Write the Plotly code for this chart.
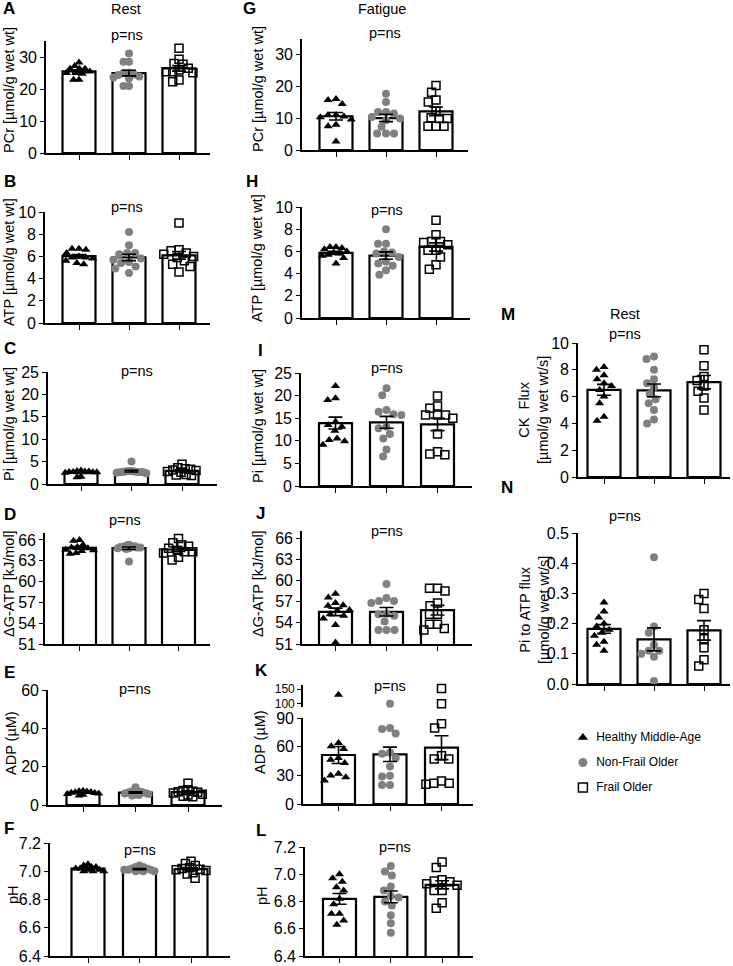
import numpy as np
import plotly.graph_objects as go

W, H = 733, 966
FONT = "Liberation Sans, Arial, sans-serif"
GRAY = "#808080"

groups = ["Healthy Middle-Age", "Non-Frail Older", "Frail Older"]

# ---------------- Rest (A-F) ----------------
rest_pcr_hma = [28.3, 27.2, 26.3, 26.3, 26.3, 25.5, 25.0, 25.0, 24.8, 22.9, 22.9]
rest_pcr_nfo = [31.1, 28.5, 28.5, 25.0, 24.5, 25.1, 24.4, 23.9, 23.6, 23.3, 20.9, 20.9]
rest_pcr_fo = [32.7, 29.3, 28.0, 27.7, 26.5, 25.9, 25.4, 25.4, 25.1, 22.8, 22.3]

rest_atp_hma = [6.7, 6.7, 6.6, 6.3, 6.0, 5.9, 5.9, 5.8, 5.6, 5.4, 5.3]
rest_atp_nfo = [8.2, 7.0, 6.2, 6.3, 6.3, 5.8, 5.7, 5.5, 5.4, 5.1, 4.9, 4.5]
rest_atp_fo = [9.0, 6.6, 6.5, 6.3, 6.2, 6.0, 5.9, 5.6, 5.3, 5.1, 4.6]

rest_pi_hma = [3.0, 2.9, 2.8, 2.8, 2.7, 2.7, 2.6, 2.6, 2.5, 1.6, 1.5]
rest_pi_nfo = [5.0, 2.9, 2.9, 2.8, 2.8, 2.7, 2.7, 2.7, 2.6, 2.6, 2.5, 2.4]
rest_pi_fo = [4.4, 3.6, 3.4, 3.3, 3.1, 3.0, 2.8, 2.6, 2.1, 2.0, 1.9]

rest_dg_hma = [66.0, 65.9, 65.3, 65.0, 64.9, 64.8, 64.6, 64.5, 64.4, 64.1, 64.0]
rest_dg_nfo = [65.3, 65.2, 65.1, 65.1, 65.0, 65.0, 64.9, 64.9, 64.8, 64.8, 64.7, 62.9]
rest_dg_fo = [66.2, 65.6, 65.3, 65.1, 64.8, 64.5, 64.3, 64.3, 64.1, 63.5, 63.1]

rest_adp_hma = [7.5, 7.2, 7.0, 6.8, 6.6, 6.4, 6.2, 6.0, 5.8, 5.3, 5.0]
rest_adp_nfo = [9.3, 7.5, 7.2, 7.0, 6.8, 6.5, 6.3, 6.0, 5.8, 5.5, 5.2, 5.0]
rest_adp_fo = [11.3, 7.9, 7.6, 7.2, 6.9, 6.6, 6.3, 5.6, 5.2, 4.6, 4.3]

rest_ph_hma = [7.05, 7.04, 7.03, 7.03, 7.02, 7.02, 7.01, 7.01, 7.00, 7.00, 7.00]
rest_ph_nfo = [7.04, 7.03, 7.03, 7.02, 7.02, 7.01, 7.01, 7.01, 7.01, 7.00, 7.00, 7.00]
rest_ph_fo = [7.07, 7.055, 7.04, 7.025, 7.02, 7.015, 7.01, 7.005, 6.99, 6.98, 6.95]

# ---------------- Fatigue (G-L) ----------------
fat_pcr_hma = [16.1, 15.8, 14.5, 11.0, 11.0, 10.6, 10.3, 9.6, 8.0, 7.5, 2.7]
fat_pcr_nfo = [17.7, 15.1, 12.0, 12.0, 11.5, 10.4, 9.9, 9.4, 7.3, 5.2, 5.2, 5.2]
fat_pcr_fo = [20.3, 18.2, 15.8, 15.1, 12.2, 10.2, 9.9, 9.9, 7.5, 7.5, 7.5]

fat_atp_hma = [6.4, 6.4, 6.3, 6.2, 6.0, 5.9, 5.8, 5.7, 5.6, 5.4, 4.9]
fat_atp_nfo = [8.0, 6.7, 6.7, 6.0, 5.9, 5.8, 5.5, 5.1, 4.9, 4.7, 4.3, 3.9]
fat_atp_fo = [8.8, 7.5, 6.6, 6.9, 6.9, 6.8, 6.1, 6.1, 5.5, 4.8, 4.4]

fat_pi_hma = [22.1, 19.4, 19.0, 14.2, 13.5, 13.1, 12.2, 10.5, 10.2, 9.9, 9.1]
fat_pi_nfo = [21.6, 20.1, 16.8, 16.4, 15.9, 15.7, 13.1, 12.8, 11.5, 10.5, 8.1, 6.5]
fat_pi_fo = [19.9, 17.7, 17.2, 15.7, 15.7, 15.7, 15.0, 11.5, 7.6, 7.1, 6.9]

fat_dg_hma = [58.1, 57.6, 56.8, 56.5, 56.4, 55.8, 55.7, 55.2, 55.0, 54.6, 53.7, 51.2]
fat_dg_nfo = [59.5, 57.5, 57.1, 56.8, 57.1, 55.3, 55.2, 55.0, 54.2, 53.0, 53.0, 53.0]
fat_dg_fo = [58.9, 58.9, 58.5, 56.8, 56.4, 55.2, 55.2, 53.8, 53.8, 53.2, 53.0]

fat_adp_hma = [131, 63.9, 60.4, 57.5, 48.1, 46.3, 42.8, 31.6, 29.8, 28.1, 24.6]
fat_adp_nfo = [100, 79.6, 78.6, 73.7, 54.0, 52.6, 48.1, 39.3, 29.5, 28.8, 20.0, 20.0]
fat_adp_fo = [152, 100, 83.9, 79.6, 50.5, 47.0, 47.0, 24.2, 21.8, 21.8, 20.7]

fat_ph_hma = [7.0, 6.97, 6.945, 6.905, 6.88, 6.82, 6.78, 6.71, 6.71, 6.66, 6.63]
fat_ph_nfo = [7.06, 7.02, 6.99, 6.91, 6.88, 6.84, 6.83, 6.8, 6.77, 6.7, 6.64, 6.57]
fat_ph_fo = [7.09, 7.05, 6.96, 6.95, 6.945, 6.93, 6.92, 6.88, 6.88, 6.79, 6.75]

# ---------------- Rest fluxes (M-N) ----------------
ck_flux_hma = [8.2, 8.0, 7.6, 7.3, 7.0, 6.8, 6.5, 6.0, 5.5, 4.5, 4.2]
ck_flux_nfo = [9.0, 8.8, 8.0, 7.3, 7.0, 6.7, 6.2, 5.8, 5.5, 5.0, 4.3, 4.0]
ck_flux_fo = [9.5, 8.3, 7.5, 7.2, 6.8, 6.4, 5.9, 5.0]

pi_atp_hma = [0.27, 0.24, 0.22, 0.20, 0.19, 0.18, 0.17, 0.16, 0.14, 0.13, 0.11]
pi_atp_nfo = [0.42, 0.19, 0.17, 0.13, 0.11, 0.11, 0.10, 0.09, 0.01]
pi_atp_fo = [0.30, 0.28, 0.25, 0.18, 0.15, 0.12, 0.08, 0.06]

pcr_ticks = [0, 10, 20, 30]
atp_ticks = [0, 2, 4, 6, 8, 10]
pi_ticks = [0, 5, 10, 15, 20, 25]
dg_ticks = [51, 54, 57, 60, 63, 66]
adp_rest_ticks = [0, 20, 40, 60]
adp_fat_ticks = [0, 30, 60, 90]
adp_fat_upper_ticks = [100, 150]
ph_ticks = [6.4, 6.6, 6.8, 7.0, 7.2]
ck_ticks = [0, 2, 4, 6, 8, 10]
piatp_ticks = [0.0, 0.1, 0.2, 0.3, 0.4, 0.5]

fig = go.Figure()
layout = {}
annotations = []
counter = [0]

STYLES = [
    dict(symbol="triangle-up", size=8, color="black"),
    dict(symbol="circle", size=8, color=GRAY),
    dict(symbol="square-open", size=8, color="black", line=dict(width=1.5, color="black")),
]


def new_axes(x0, x1, ytop, ybot, xr, yr, yticks, yfmt=None, show_x=True, tsize=16):
    counter[0] += 1
    i = counter[0]
    s = "" if i == 1 else str(i)
    layout["xaxis" + s] = dict(
        domain=[x0 / W, x1 / W], range=list(xr), anchor="y" + s, automargin=False,
        showline=show_x, linecolor="black", linewidth=1.6,
        ticks="outside" if show_x else "", tickvals=[0, 1, 2] if show_x else [],
        ticklen=5, tickwidth=1.3, tickcolor="black",
        showticklabels=False, showgrid=False, zeroline=False, fixedrange=True)
    layout["yaxis" + s] = dict(
        domain=[1 - ybot / H, 1 - ytop / H], range=list(yr), anchor="x" + s, automargin=False,
        showline=True, linecolor="black", linewidth=1.6,
        ticks="outside", ticklen=4, tickwidth=1.3, tickcolor="black",
        tickvals=yticks, tickformat=yfmt, ticklabeloverflow="allow",
        tickfont=dict(size=tsize, color="black", family=FONT),
        showgrid=False, zeroline=False, fixedrange=True)
    return "x" + s, "y" + s


def swarm_once(ys, d):
    order = np.argsort(-ys, kind="stable")
    xs = np.zeros(len(ys))
    placed = []
    for i in order:
        iv = []
        for j in placed:
            dy = abs(ys[i] - ys[j])
            if dy < d:
                dx = np.sqrt(d * d - dy * dy)
                iv.append((xs[j] - dx, xs[j] + dx))
        cands = [0.0] + [a for a, b in iv] + [b for a, b in iv]
        cands.sort(key=abs)
        for c in cands:
            if all(not (a + 1e-6 < c < b - 1e-6) for a, b in iv):
                xs[i] = c
                break
        placed.append(i)
    return xs


def swarm(vals, ypu, d=8.0, maxw=16.0):
    ys = np.asarray(vals, dtype=float) * ypu
    while True:
        xs = swarm_once(ys, d)
        if len(xs) == 0 or np.max(np.abs(xs)) <= maxw or d <= 1.5:
            return xs
        d -= 0.5


def ann(text, x, y, size=14.5, bold=False, angle=0, xanchor="center"):
    if bold:
        text = "<b>" + text + "</b>"
    annotations.append(dict(text=text, x=x / W, y=1 - y / H, xref="paper", yref="paper",
                            xanchor=xanchor, yanchor="middle", showarrow=False,
                            textangle=angle, font=dict(size=size, family=FONT, color="black")))


def panel(data, x0, x1, c0, step, ytop, ybot, yr, yticks, yfmt=None, upper=None):
    xr = ((x0 - c0) / step, (x1 - c0) / step)
    xa, ya = new_axes(x0, x1, ytop, ybot, xr, yr, yticks, yfmt)
    means = [float(np.mean(v)) for v in data]
    sems = [float(np.std(v, ddof=1) / np.sqrt(len(v))) for v in data]
    fig.add_trace(go.Bar(x=[0, 1, 2], y=means, width=33 / step, xaxis=xa, yaxis=ya,
                         marker=dict(color="white", line=dict(color="black", width=2.2)),
                         showlegend=False, hoverinfo="skip"))
    ypu = (ybot - ytop) / (yr[1] - yr[0])
    if upper is not None:
        uytop, uybot, uyr, uticks = upper
        uxa, uya = new_axes(x0, x1, uytop, uybot, xr, uyr, uticks, show_x=False, tsize=12)
        uypu = (uybot - uytop) / (uyr[1] - uyr[0])
    for g, vals in enumerate(data):
        vals = np.asarray(vals, dtype=float)
        if upper is not None:
            lo = vals[vals <= yr[1]]
            hi = vals[vals > yr[1]]
        else:
            lo, hi = vals, np.array([])
        offs = swarm(lo, ypu) / step
        fig.add_trace(go.Scatter(x=g + offs, y=lo, mode="markers", marker=STYLES[g],
                                 xaxis=xa, yaxis=ya, cliponaxis=False, showlegend=False))
        if len(hi):
            offs = swarm(hi, uypu) / step
            fig.add_trace(go.Scatter(x=g + offs, y=hi, mode="markers", marker=STYLES[g],
                                     xaxis=uxa, yaxis=uya, cliponaxis=False, showlegend=False))
    fig.add_trace(go.Scatter(x=[0, 1, 2], y=means, mode="markers",
                             marker=dict(size=1, color="rgba(0,0,0,0)"),
                             error_y=dict(type="data", array=sems, color="black", thickness=1.6, width=7),
                             xaxis=xa, yaxis=ya, cliponaxis=False, showlegend=False))


# Left column: Rest
panel([rest_pcr_hma, rest_pcr_nfo, rest_pcr_fo], 46, 210, 79, 50, 41, 153, (0, 35), pcr_ticks)
panel([rest_atp_hma, rest_atp_nfo, rest_atp_fo], 45, 210, 79, 50, 212, 323, (0, 10), atp_ticks)
panel([rest_pi_hma, rest_pi_nfo, rest_pi_fo], 48, 217, 81, 50.5, 372, 484, (0, 25), pi_ticks)
panel([rest_dg_hma, rest_dg_nfo, rest_dg_fo], 45, 210, 79.5, 49.5, 533, 644, (51, 67), dg_ticks)
panel([rest_adp_hma, rest_adp_nfo, rest_adp_fo], 48, 222, 83, 52.5, 690, 805, (0, 60), adp_rest_ticks)
panel([rest_ph_hma, rest_ph_nfo, rest_ph_fo], 50, 230, 88, 51.5, 843, 956, (6.4, 7.2), ph_ticks, ".1f")

# Middle column: Fatigue
panel([fat_pcr_hma, fat_pcr_nfo, fat_pcr_fo], 302, 468, 336, 50, 39, 150, (0, 35), pcr_ticks)
panel([fat_atp_hma, fat_atp_nfo, fat_atp_fo], 302, 470, 336, 50, 207, 318, (0, 10), atp_ticks)
panel([fat_pi_hma, fat_pi_nfo, fat_pi_fo], 301, 472, 335.5, 51, 373, 486, (0, 25), pi_ticks)
panel([fat_dg_hma, fat_dg_nfo, fat_dg_fo], 302, 472, 335.5, 51, 531, 644, (51, 67), dg_ticks)
panel([fat_adp_hma, fat_adp_nfo, fat_adp_fo], 303, 473, 338.5, 51.5, 718, 804, (0, 90), adp_fat_ticks,
      upper=(685, 707, (88.6, 164.3), adp_fat_upper_ticks))
panel([fat_ph_hma, fat_ph_nfo, fat_ph_fo], 305, 473, 339.5, 51.3, 847, 956, (6.4, 7.2), ph_ticks, ".1f")

# Right column: Rest fluxes
panel([ck_flux_hma, ck_flux_nfo, ck_flux_fo], 578, 730, 604, 50, 343, 477, (0, 10), ck_ticks)
panel([pi_atp_hma, pi_atp_nfo, pi_atp_fo], 578, 730, 604, 50, 533, 684, (0, 0.5), piatp_ticks, ".1f")

# Legend (markers + real text on a hidden axis pair)
counter[0] += 1
s = str(counter[0])
layout["xaxis" + s] = dict(domain=[575 / W, 733 / W], range=[0, 1], visible=False,
                           fixedrange=True, automargin=False)
layout["yaxis" + s] = dict(domain=[1 - 800 / H, 1 - 725 / H], range=[3, 0], visible=False,
                           fixedrange=True, automargin=False)
for g in range(3):
    fig.add_trace(go.Scatter(x=[0.05], y=[[0.5, 1.5, 2.5][g]], mode="markers+text",
                             marker=dict(STYLES[g], size=9), text=["  " + groups[g]],
                             textposition="middle right",
                             textfont=dict(size=12, family=FONT, color="black"),
                             xaxis="x" + s, yaxis="y" + s, cliponaxis=False, showlegend=False))

# Titles, letters, p-values, y-axis titles
ann("Rest", 126, 9, 14.5)
ann("Fatigue", 382, 9, 14.5)
ann("Rest", 625, 314, 14.5)

for letter, x, y in [("A", 1, 9), ("B", 2, 181), ("C", 2, 349), ("D", 2, 514), ("E", 2, 672), ("F", 2, 828),
                     ("G", 241, 9), ("H", 244, 182), ("I", 256, 350), ("J", 254, 513), ("K", 253, 670),
                     ("L", 254, 830), ("M", 499, 314), ("N", 499, 487)]:
    ann(letter, x, y, 17, bold=True, xanchor="left")

for x, y in [(127, 35), (127, 207), (137, 371), (125, 520), (135, 689), (140, 850),
             (385, 33), (387, 210), (387, 368), (387, 531), (390, 686), (395, 847),
             (625, 334), (625, 516)]:
    ann("p=ns", x, y, 14.5)

for t, x, y in [("PCr [µmol/g wet wt]", 9, 90), ("ATP [µmol/g wet wt]", 9, 262),
                ("Pi [µmol/g wet wt]", 9, 424), ("ΔG-ATP [kJ/mol]", 9, 584),
                ("ADP (µM)", 11, 743), ("pH", 13, 895),
                ("PCr [µmol/g wet wt]", 258, 89), ("ATP [µmol/g wet wt]", 257, 258),
                ("Pi [µmol/g wet wt]", 258, 426), ("ΔG-ATP [kJ/mol]", 258, 584),
                ("ADP (µM)", 260, 742), ("pH", 262, 896),
                ("CK  Flux<br>[µmol/g wet wt/s]", 534, 410),
                ("Pi to ATP flux<br>[µmol/g wet wt/s]", 534, 610)]:
    ann(t, x, y, 14.5, angle=-90)

fig.update_layout(width=W, height=H, margin=dict(l=0, r=0, t=0, b=0, autoexpand=False),
                  paper_bgcolor="white", plot_bgcolor="rgba(0,0,0,0)",
                  showlegend=False, barmode="overlay", annotations=annotations,
                  font=dict(family=FONT, color="black"), **layout)

fig.write_html("out.html", config={"displayModeBar": False},
               post_script="document.body.style.margin='0px';"
                           "document.documentElement.style.overflow='hidden';"
                           "document.body.style.overflow='hidden';")
